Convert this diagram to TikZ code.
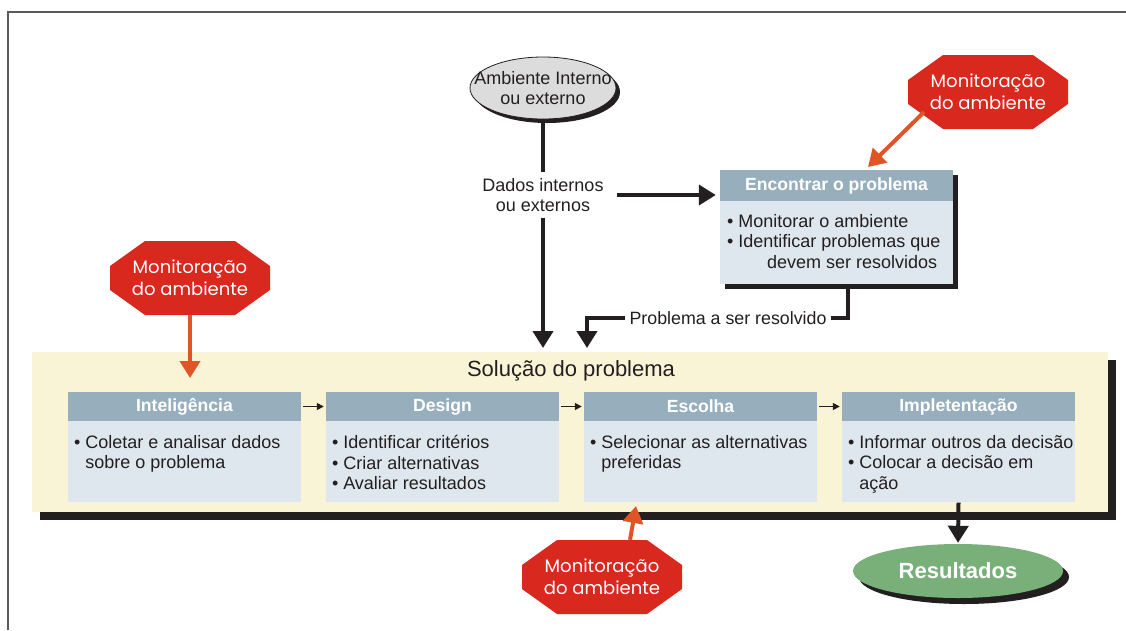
\documentclass[tikz,border=0pt]{standalone}
\usepackage{fontspec}
\setmainfont{Liberation Sans}
\newfontfamily\gothic{Poppins}
\usetikzlibrary{arrows.meta,shadows,calc,shapes.geometric}
\definecolor{hdrcol}{RGB}{151,175,189}
\definecolor{bodycol}{RGB}{223,231,238}
\definecolor{panelcol}{RGB}{250,244,214}
\definecolor{octred}{RGB}{217,40,30}
\definecolor{orangecol}{RGB}{224,85,38}
\definecolor{greencol}{RGB}{121,176,122}
\definecolor{graycol}{RGB}{220,220,220}
\definecolor{txtcol}{RGB}{35,31,32}
\definecolor{framecol}{RGB}{90,90,90}
\begin{document}
\begin{tikzpicture}[x=1pt,y=-1pt,
  every node/.style={inner sep=0pt, text=txtcol},
  hdr/.style={fill=hdrcol, minimum width=233pt, minimum height=29pt,
    font=\fontsize{17.6}{20}\selectfont\bfseries, text=white},
  bodybox/.style={fill=bodycol, minimum width=233pt, anchor=north},
  bodytext/.style={align=left, anchor=north west, font=\fontsize{18}{20.5}\selectfont},
  blackshadow/.style={drop shadow={shadow xshift=#1, shadow yshift=-#1, fill=txtcol, opacity=1}},
  bigarrow/.style={line width=4pt, draw=txtcol, -{Triangle[length=17pt,width=20pt]}},
  orangearrow/.style={line width=4pt, draw=orangecol, fill=orangecol, -{Triangle[length=17pt,width=20pt]}},
  smallarrow/.style={line width=1.6pt, draw=txtcol, -{Triangle[length=7pt,width=7pt]}},
  octbox/.style={minimum width=160pt, minimum height=74pt, align=center, text=white,
    font=\gothic\fontsize{18}{22}\selectfont},
  pics/octo/.style={code={\fill[octred] (-45,-37) -- (45,-37) -- (80,-12) -- (80,12) -- (45,37) -- (-45,37) -- (-80,12) -- (-80,-12) -- cycle;}},
]
\useasboundingbox (0,0) rectangle (1126,630);
\fill[white] (0,0) rectangle (1126,630);
\draw[framecol, line width=1.3pt] (8,630) -- (8,12) -- (1126,12);

% panel
\node[fill=panelcol, minimum width=1076pt, minimum height=160pt, blackshadow=8pt] (panel) at (570,432) {};
\node[font=\fontsize{22}{26}\selectfont] (title) at (571,371) {Solução do problema};

% four steps
\node[hdr] (h1) at (184.5,406.5) {Inteligência};
\node[bodybox, minimum height=81pt] (b1) at (h1.south) {};
\node[bodytext] (t1) at ([xshift=6pt,yshift=-14pt]b1.north west)
  {\textbullet\ Coletar e analisar dados\\\phantom{\textbullet\ }sobre o problema};

\node[hdr] (h2) at (442.5,406.5) {Design};
\node[bodybox, minimum height=81pt] (b2) at (h2.south) {};
\node[bodytext] (t2) at ([xshift=6pt,yshift=-14pt]b2.north west)
  {\textbullet\ Identificar critérios\\\textbullet\ Criar alternativas\\\textbullet\ Avaliar resultados};

\node[hdr] (h3) at (700.5,406.5) {Escolha};
\node[bodybox, minimum height=81pt] (b3) at (h3.south) {};
\node[bodytext] (t3) at ([xshift=6pt,yshift=-14pt]b3.north west)
  {\textbullet\ Selecionar as alternativas\\\phantom{\textbullet\ }preferidas};

\node[hdr] (h4) at (958.5,406.5) {Impletentação};
\node[bodybox, minimum height=81pt] (b4) at (h4.south) {};
\node[bodytext] (t4) at ([xshift=6pt,yshift=-14pt]b4.north west)
  {\textbullet\ Informar outros da decisão\\\textbullet\ Colocar a decisão em\\\phantom{\textbullet\ }ação};

\draw[smallarrow, shorten <=2pt, shorten >=2pt] (h1.east) -- (h2.west);
\draw[smallarrow, shorten <=2pt, shorten >=2pt] (h2.east) -- (h3.west);
\draw[smallarrow, shorten <=2pt, shorten >=2pt] (h3.east) -- (h4.west);

% Encontrar o problema
\node[hdr, minimum height=31pt, blackshadow=5pt] (h5) at (836.5,185.5) {Encontrar o problema};
\node[bodybox, minimum height=83pt, blackshadow=5pt] (b5) at (h5.south) {};
\node[bodytext] (t5) at ([xshift=7pt,yshift=-13pt]b5.north west)
  {\textbullet\ Monitorar o ambiente\\\textbullet\ Identificar problemas que\\\hspace*{40pt}devem ser resolvidos};

% ambiente ellipse
\node[ellipse, fill=graycol, draw=txtcol, line width=0.8pt, minimum width=146pt, minimum height=62pt,
  inner xsep=-17pt, inner ysep=2pt,
  blackshadow=4pt, align=center, font=\fontsize{18}{20.5}\selectfont] (amb) at (543,88)
  {Ambiente Interno\\ou externo};

\node[align=center, font=\fontsize{18}{20}\selectfont, inner xsep=13pt, inner ysep=6pt] (dados) at (543,195)
  {Dados internos\\ou externos};

\coordinate (in1) at (543,352);
\coordinate (in2) at (587,352);
\draw[line width=4pt, txtcol] (amb.south) -- (dados.north);
\draw[bigarrow, shorten >=4pt] (dados.south) -- (in1);
\draw[bigarrow, shorten >=4pt] (dados.east) -- (dados.east -| h5.west);

\node[font=\fontsize{17.8}{20}\selectfont, inner xsep=4pt] (prob) at (728,318) {Problema a ser resolvido};
\draw[line width=4pt, txtcol] ([xshift=11.5pt]b5.south) |- (prob.east);
\draw[bigarrow, shorten >=4pt] (prob.west) -| (in2);

% resultados
\node[ellipse, fill=greencol, minimum width=210pt, minimum height=54pt, blackshadow=6pt,
  text=white, font=\fontsize{22}{24}\selectfont\bfseries] (res) at (958,571) {Resultados};
\draw[bigarrow, shorten >=1pt] (b4.south) -- (res.north);

% monitoracao octagons
\pic at (190,278) {octo};
\node[octbox] (mon1) at (190,278) {Monitoração\\do ambiente};
\pic at (988,92) {octo};
\node[octbox] (mon2) at (988,92) {Monitoração\\do ambiente};
\pic at (602,577) {octo};
\node[octbox] (mon3) at (602,577) {Monitoração\\do ambiente};

\coordinate (o1) at (190,378);
\coordinate (o2) at (868,167);
\coordinate (o3) at (636,506);
\draw[orangearrow] (mon1.south) -- (o1);
\draw[orangearrow] ($(mon2.center)+(-64,20)$) -- (o2);
\draw[orangearrow] ($(mon3.north)+(28,0)$) -- (o3);
\end{tikzpicture}
\end{document}
